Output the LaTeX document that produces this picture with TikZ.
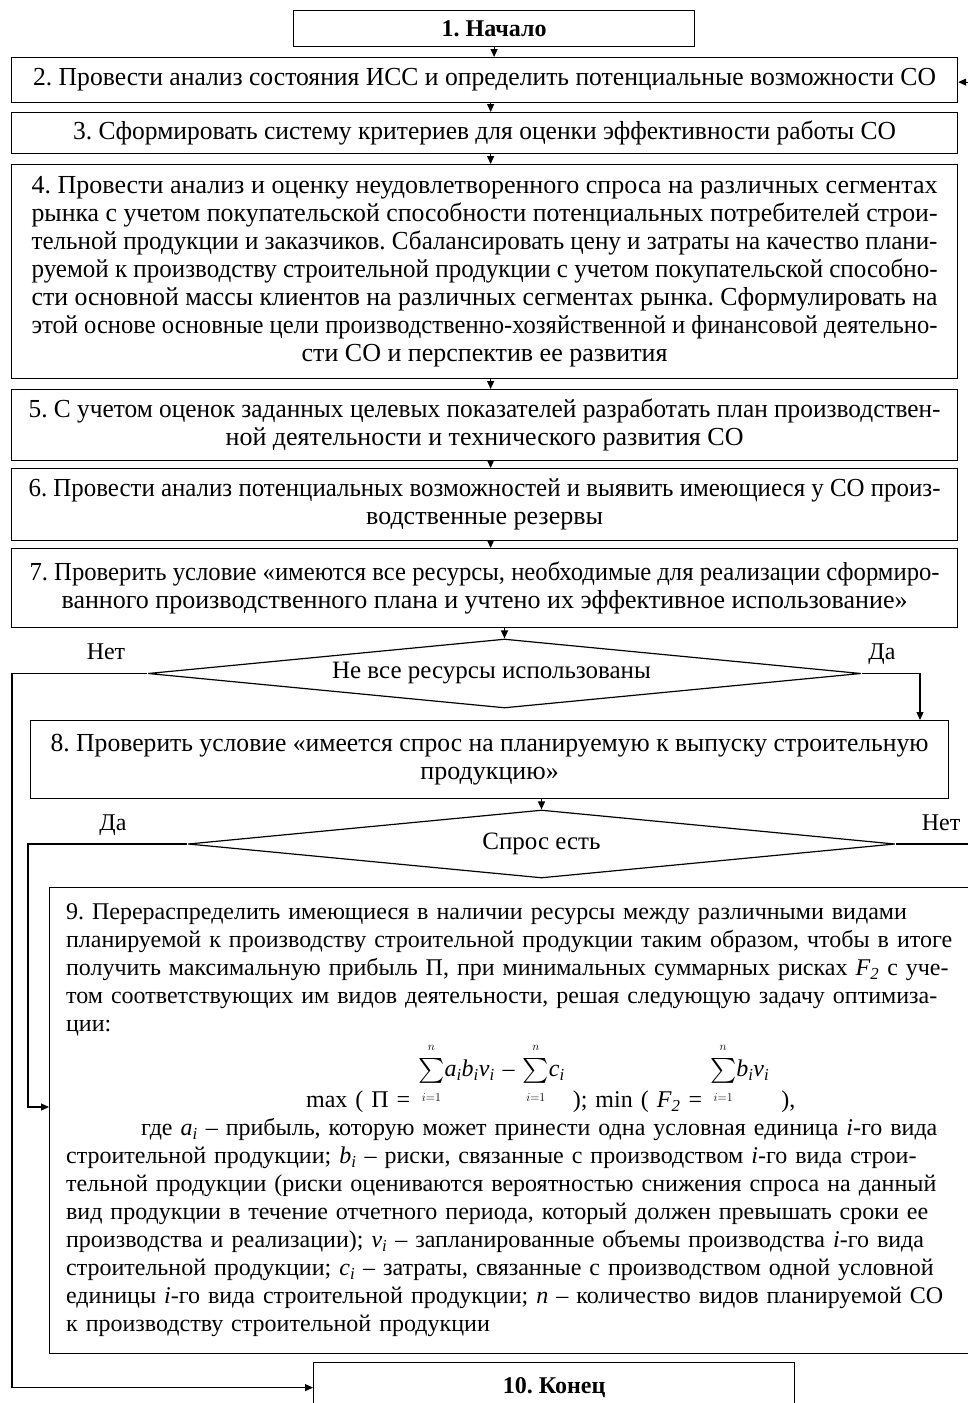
\documentclass[tikz,border=0pt]{standalone}
\usepackage{fontspec}
\setmainfont{Liberation Serif}
\usepackage{exscale}
\usepackage{graphicx}
\usetikzlibrary{arrows.meta,shapes.geometric}
\setlength\parindent{0pt}
\frenchspacing

% a line set to a fixed width: spaces stretch, or the line is squeezed if too long
\newlength\jlnat
\newcommand\jl[2]{\leavevmode\settowidth\jlnat{#2}\ifdim\jlnat>#1pt\relax\resizebox{#1pt}{\height}{#2}\else\hbox to #1pt{#2}\fi}
% italic variable with italic subscript
\newcommand\mv[2]{\textit{#1}\textsubscript{\textit{#2}}}
% summation sign with small, slightly detached limits
\newcommand\sumi{\(\textstyle\sum\limits_{\raisebox{-3pt}{$\scriptscriptstyle i=1$}}^{\raisebox{3pt}{$\scriptscriptstyle n$}}\)}

\begin{document}
\begin{tikzpicture}[x=1pt,y=-1pt,
  font=\fontsize{24pt}{28pt}\selectfont,
  line width=1.2pt,
  box/.style={draw, rectangle, inner sep=0pt, align=center, anchor=north west},
  big/.style={font=\fontsize{26pt}{28pt}\selectfont},
  dia/.style={draw, diamond, inner sep=0pt, shape aspect=10, font=\fontsize{25pt}{28pt}\selectfont},
  lbl/.style={inner sep=0pt, anchor=base},
  arr/.style={-{Triangle[length=8pt,width=7pt]}}]

\useasboundingbox (0,0) rectangle (968,1403);
\fill[white] (0,0) rectangle (968,1403);
\clip (0,0) rectangle (968,1403);

% process boxes
\node[box, minimum width=401pt, minimum height=36pt] (b1) at (293,10) {\textbf{1. Начало}};
\node[box, big, minimum width=946pt, minimum height=45pt] (b2) at (11,57)
  {\jl{903}{2. Провести анализ состояния ИСС и определить потенциальные возможности СО}};
\node[box, big, minimum width=946pt, minimum height=41pt] (b3) at (11,112)
  {\jl{823}{3. Сформировать систему критериев для оценки эффективности работы СО}};
\node[box, big, minimum width=946pt, minimum height=214pt] (b4) at (11,164)
  {\jl{906}{4. Провести анализ и оценку неудовлетворенного спроса на различных сегментах}\\
   \jl{906}{рынка с учетом покупательской способности потенциальных потребителей строи-}\\
   \jl{906}{тельной продукции и заказчиков. Сбалансировать цену и затраты на качество плани-}\\
   \jl{906}{руемой к производству строительной продукции с учетом покупательской способно-}\\
   \jl{906}{сти основной массы клиентов на различных сегментах рынка. Сформулировать на}\\
   \jl{906}{этой основе основные цели производственно-хозяйственной и финансовой деятельно-}\\
   сти СО и перспектив ее развития};
\node[box, big, minimum width=946pt, minimum height=71pt] (b5) at (11,389)
  {\jl{912}{5. С учетом оценок заданных целевых показателей разработать план производствен-}\\
   ной деятельности и технического развития СО};
\node[box, big, minimum width=946pt, minimum height=72pt] (b6) at (11,468)
  {\jl{912}{6. Провести анализ потенциальных возможностей и выявить имеющиеся у СО произ-}\\
   водственные резервы};
\node[box, big, minimum width=946pt, minimum height=79pt] (b7) at (11,548)
  {\jl{910}{7. Проверить условие «имеются все ресурсы, необходимые для реализации сформиро-}\\
   ванного производственного плана и учтено их эффективное использование»};

% first decision
\node[dia, minimum width=713pt, minimum height=69pt] (d1) at (504.5,673.5)
  {\hspace*{-26pt}Не все ресурсы использованы};
\node[lbl] (l1n) at (106,659) {Нет};
\node[lbl] (l1d) at (882,659) {Да};

\node[box, big, minimum width=918pt, minimum height=78pt] (b8) at (30,720)
  {\jl{878}{8. Проверить условие «имеется спрос на планируемую к выпуску строительную}\\
   продукцию»};

% second decision
\node[dia, minimum width=707pt, minimum height=68pt] (d2) at (541.5,844)
  {Спрос есть};
\node[lbl] (l2d) at (113,830) {Да};
\node[lbl] (l2n) at (941,830) {Нет};

% redistribution step with the optimisation problem
\node[box, minimum width=926pt, minimum height=466pt, text width=893pt, align=left] (b9) at (49,887)
  {\jl{893}{9. Перераспределить имеющиеся в наличии ресурсы между различными видами}\\
   \jl{893}{планируемой к производству строительной продукции таким образом, чтобы в итоге}\\
   \jl{893}{получить максимальную прибыль П, при минимальных суммарных рисках \mv{F}{2} с уче-}\\
   \jl{893}{том соответствующих им видов деятельности, решая следующую задачу  оптимиза-}\\
   ции:\\[48pt]
   \leavevmode\hbox to 893pt{\hspace*{240pt}max ( П = \raisebox{31pt}[0pt][0pt]{\sumi\mv{a}{i}\mv{b}{i}\mv{v}{i} – \sumi\mv{c}{i}}\hspace*{8pt}); min ( \mv{F}{2} = \raisebox{31pt}[0pt][0pt]{\sumi\mv{b}{i}\mv{v}{i}}\hspace*{12pt}),\hfill}\\
   \hspace*{75pt}\jl{818}{где \mv{a}{i} – прибыль, которую может принести  одна условная единица \textit{i}-го вида}\\
   \jl{893}{строительной продукции; \mv{b}{i} – риски, связанные с производством \textit{i}-го  вида строи-}\\
   \jl{893}{тельной продукции (риски оцениваются вероятностью снижения спроса на данный}\\
   \jl{893}{вид продукции в течение отчетного периода, который должен превышать сроки ее}\\
   \jl{893}{производства и реализации); \mv{v}{i} – запланированные объемы производства \textit{i}-го вида}\\
   \jl{893}{строительной продукции; \mv{c}{i} – затраты, связанные с производством  одной условной}\\
   \jl{893}{единицы \textit{i}-го вида строительной продукции; \textit{n} – количество видов планируемой СО}\\
   к производству строительной продукции};

\node[box, minimum width=481pt, minimum height=50pt] (b10) at (313,1362) {\textbf{10. Конец}};

% helper columns for the return lines
\coordinate (nx) at (12,0);
\coordinate (dx) at (920,0);
\coordinate (ax) at (28,1107);
\coordinate (rx) at (976,0);

% main sequence
\draw[arr] (b1.south) -- (b1.south |- b2.north);
\draw[arr] ([xshift=6pt]b2.south) -- ([xshift=6pt]b3.north);
\draw[arr] ([xshift=6pt]b3.south) -- ([xshift=6pt]b4.north);
\draw[arr] ([xshift=6pt]b4.south) -- ([xshift=6pt]b5.north);
\draw[arr] ([xshift=6pt]b5.south) -- ([xshift=6pt]b6.north);
\draw[arr] ([xshift=6pt]b6.south) -- ([xshift=6pt]b7.north);
\draw[arr] (b7.south -| d1.north) -- (d1.north);
\draw[arr] (b8.south -| d2.north) -- (d2.north);

% branches
\draw[arr] (d1.west) -- (d1.west -| nx) |- (b10.west);
\draw[arr] (d1.east) -| (dx |- b8.north);
\draw[arr] (d2.west) -| (ax) -- (ax -| b9.west);
\draw[arr] (d2.east) -- (d2.east -| rx) |- ([yshift=-2pt]b2.east);
\end{tikzpicture}
\end{document}
